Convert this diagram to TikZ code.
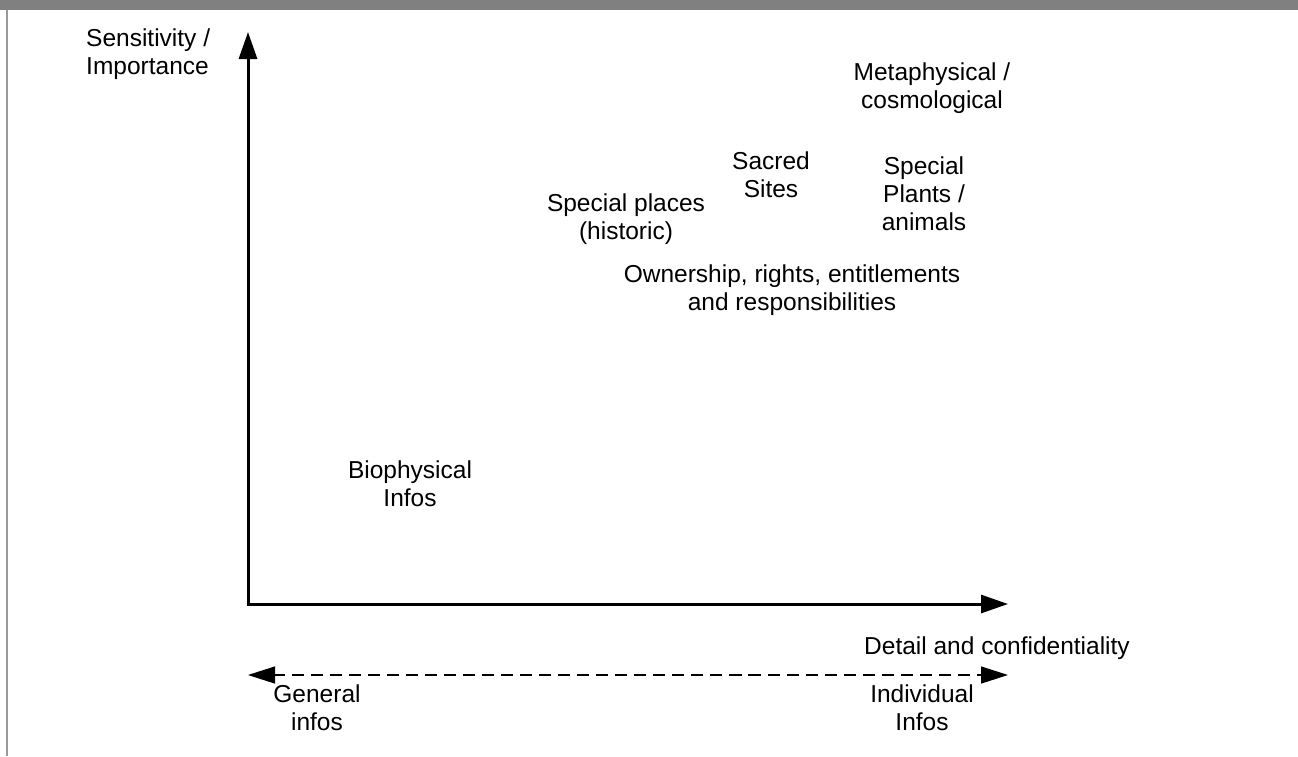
\documentclass[tikz,border=0pt]{standalone}
\usepackage{fontspec}
\setmainfont{Liberation Sans}
\usetikzlibrary{arrows.meta}
\begin{document}
\begin{tikzpicture}[x=1pt,y=-1pt,
  lbl/.style={inner sep=0pt,align=center,font=\fontsize{24.5}{28}\selectfont},
  axis/.style={line width=3pt,-{Triangle[length=27pt,width=18pt]}},
  dax/.style={line width=1.3pt,dash pattern=on 12pt off 7pt,-{Triangle[length=27pt,width=17pt]}}]
\useasboundingbox (0,0) rectangle (1298,756);
\fill[white] (0,0) rectangle (1298,756);
\fill[black!50] (0,0) rectangle (1298,10);
\fill[black!40] (6,10) rectangle (8,756);
% axes
\coordinate (O) at (248,604);
\coordinate (Ytip) at (248,32);
\coordinate (Xtip) at (1008,604);
\draw[axis] (O) -- (Ytip);
\draw[axis] ([xshift=-1.5pt]O) -- (Xtip);
% dashed arrows
\coordinate (ML) at (760,675);
\coordinate (MR) at (730,675);
\coordinate (L) at (248,675);
\coordinate (R) at (1008,675);
\draw[dax] (ML) -- (L);
\draw[dax] (MR) -- (R);
% labels
\node[lbl,align=left,anchor=west] (sens) at (86,54) {Sensitivity /\\Importance};
\node[lbl] (meta) at (932,88) {Metaphysical /\\cosmological};
\node[lbl] (sacred) at (771,175) {Sacred\\Sites};
\node[lbl] (plants) at (924,194) {Special\\Plants /\\animals};
\node[lbl] (places) at (626,219) {Special places\\(historic)};
\node[lbl] (own) at (792,290) {Ownership, rights, entitlements\\and responsibilities};
\node[lbl] (bio) at (410,484) {Biophysical\\Infos};
\node[lbl,anchor=west] (detail) at (864,648) {Detail and confidentiality};
\node[lbl] (gen) at (317,708) {General\\infos};
\node[lbl] (ind) at (922,708) {Individual\\Infos};
\end{tikzpicture}
\end{document}
